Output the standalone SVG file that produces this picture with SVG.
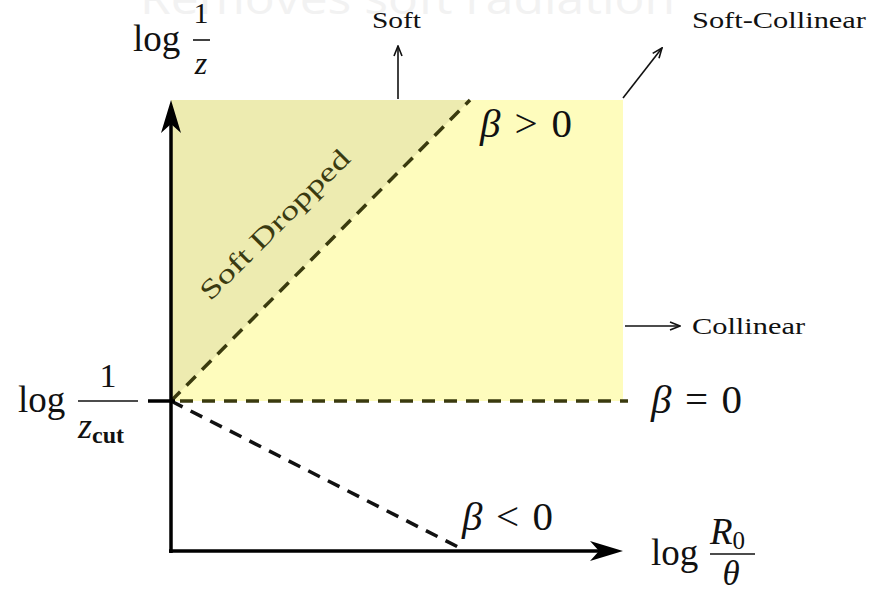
<svg xmlns="http://www.w3.org/2000/svg" width="885" height="593" viewBox="0 0 885 593">
<style>
.serif{font-family:"Liberation Serif","DejaVu Serif",serif;fill:#111}
.it{font-style:italic}
.lbl{font-size:23px}
.math{font-size:37px}
.beta{font-size:41px}
.dash{fill:none;stroke-width:3.5;stroke-dasharray:13 9}
.thin{stroke:#111;stroke-width:1.6;fill:none}
.axis{stroke:#000;stroke-width:3.5;fill:none}
</style>
<defs>
<marker id="ah" viewBox="0 0 12 10" refX="11" refY="5" markerWidth="12" markerHeight="10" markerUnits="userSpaceOnUse" orient="auto">
<path d="M1,1 L11,5 L1,9" fill="none" stroke="#111" stroke-width="1.6"/>
</marker>
</defs>
<rect width="885" height="593" fill="#fff"/>
<text x="140" y="14" font-family="'Open Sans',sans-serif" font-size="44" fill="#f2f2f2" textLength="535" lengthAdjust="spacingAndGlyphs">Removes soft radiation</text>
<g id="regions">
<rect x="171" y="100" width="452" height="301" fill="#fefcbd"/>
<polygon points="171,100 470,100 171,401" fill="#edebb0"/>
</g>
<g id="connectors">
<line class="dash" x1="171" y1="401" x2="470" y2="100" stroke="#3a3a0e"/>
<line class="dash" x1="180" y1="401" x2="628" y2="401" stroke="#3a3a0e"/>
<line class="dash" x1="171" y1="401" x2="462" y2="549" stroke="#111"/>
<line x1="148" y1="401" x2="175" y2="401" stroke="#000" stroke-width="3.5"/>
<line class="axis" x1="171" y1="553" x2="171" y2="110"/>
<path d="M171,100 L181,133 L171,124 L161,133 Z" fill="#000"/>
<line class="axis" x1="169" y1="551" x2="612" y2="551"/>
<path d="M623,551 L590,541 L599,551 L590,561 Z" fill="#000"/>
<line class="thin" x1="398" y1="99" x2="398" y2="46" marker-end="url(#ah)"/>
<line class="thin" x1="623" y1="98" x2="662" y2="48" marker-end="url(#ah)"/>
<line class="thin" x1="625" y1="326" x2="680" y2="326" marker-end="url(#ah)"/>
</g>
<g id="soft"><text class="serif lbl" x="372" y="28" textLength="49" lengthAdjust="spacingAndGlyphs">Soft</text></g>
<g id="soft-collinear"><text class="serif lbl" x="692" y="28" textLength="174" lengthAdjust="spacingAndGlyphs">Soft-Collinear</text></g>
<g id="collinear"><text class="serif lbl" x="692" y="334" textLength="113" lengthAdjust="spacingAndGlyphs">Collinear</text></g>
<g id="soft-dropped"><text class="serif" font-size="27" style="fill:#3a3a10" transform="translate(281,231) rotate(-45)" text-anchor="middle" textLength="200" lengthAdjust="spacingAndGlyphs">Soft Dropped</text></g>
<g id="beta-pos"><text class="serif beta" x="480" y="137" textLength="92" lengthAdjust="spacing"><tspan class="it">β</tspan> &gt; 0</text></g>
<g id="beta-zero"><text class="serif beta" x="651" y="413" textLength="91" lengthAdjust="spacing"><tspan class="it">β</tspan> = 0</text></g>
<g id="beta-neg"><text class="serif beta" x="462" y="530" textLength="91" lengthAdjust="spacing"><tspan class="it">β</tspan> &lt; 0</text></g>
<g id="y-label">
<text class="serif math" x="133" y="51">log</text>
<text class="serif" font-size="30" x="201" y="23" text-anchor="middle">1</text>
<line x1="193" y1="40" x2="210" y2="40" stroke="#111" stroke-width="1.6"/>
<text class="serif it" font-size="32" x="201" y="74" text-anchor="middle">z</text>
</g>
<g id="zcut-label">
<text class="serif math" x="18" y="412">log</text>
<text class="serif" font-size="34" x="108" y="387" text-anchor="middle">1</text>
<line x1="78" y1="401" x2="138" y2="401" stroke="#111" stroke-width="1.6"/>
<text class="serif" x="78" y="438"><tspan style="font-style:italic" font-size="36">z</tspan><tspan font-size="24" font-weight="bold" dy="5">cut</tspan></text>
</g>
<g id="x-label">
<text class="serif math" x="651" y="565">log</text>
<text class="serif" x="710" y="544"><tspan style="font-style:italic" font-size="37">R</tspan><tspan font-size="25" dy="5">0</tspan></text>
<line x1="710" y1="554" x2="755" y2="554" stroke="#111" stroke-width="1.6"/>
<text class="serif it" font-size="35" x="731" y="585" text-anchor="middle">θ</text>
</g>
</svg>
